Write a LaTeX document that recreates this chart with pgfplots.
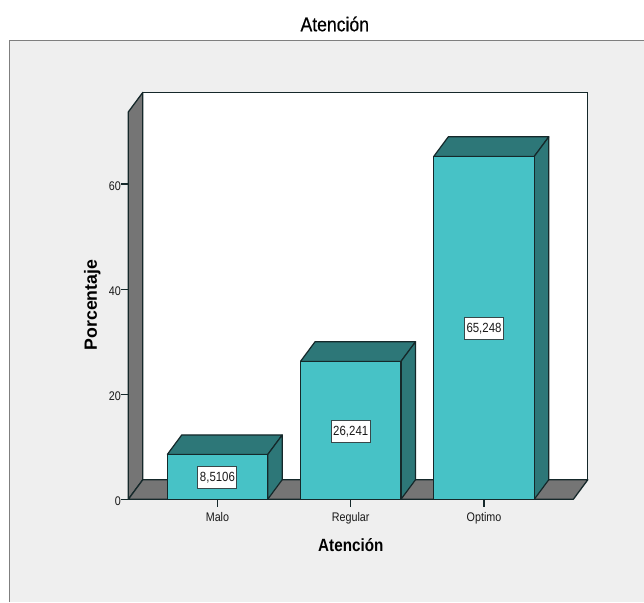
\documentclass[border=0pt]{standalone}
\usepackage{fontspec}
\setmainfont{Liberation Sans}
\newfontfamily\chartfont[FakeStretch=0.86]{Liberation Sans}
\newfontfamily\titlefont[FakeStretch=0.88,FakeBold=0.4]{Liberation Sans}
\usepackage{pgfplots}
\usepackage{pgfplotstable}
\pgfplotsset{compat=1.18}
\definecolor{panel}{HTML}{EFEFEF}
\definecolor{frameg}{HTML}{7F7F7F}
\definecolor{wallg}{HTML}{757575}
\definecolor{front}{HTML}{47C2C6}
\definecolor{shade}{HTML}{2D7778}
\definecolor{edge}{HTML}{15282A}

% x, half height (label position), value as printed
\pgfplotstableread{
x y    label
0 4.2553  8,5106
1 13.1205 26,241
2 32.624  65,248
}\labeltab

\begin{document}
\begin{tikzpicture}
  \path[use as bounding box] (0,0) rectangle (644pt,602pt);
  \fill[white] (0,0) rectangle (644pt,602pt);
  \fill[panel] (9.5pt,0) rectangle (644pt,561.5pt);
  \draw[frameg,line width=1.4pt] (9.5pt,0) -- (9.5pt,561.5pt) -- (644pt,561.5pt);
  \begin{axis}[
    at={(128.3pt,102.7pt)},
    anchor=south west,
    scale only axis,
    width=445pt,
    height=387.3pt,
    xmin=-0.669, xmax=2.670,
    ymin=0, ymax=73.7,
    clip=false,
    axis x line*=bottom,
    axis y line*=left,
    axis line style={edge,line width=1.3pt},
    xtick={0,1,2},
    xticklabels={Malo,Regular,Optimo},
    ytick={0,20,40,60},
    tick style={edge,line width=1.1pt},
    tick align=outside,
    major tick length=7.5pt,
    /pgf/number format/assume math mode=true,
    ticklabel style={font=\chartfont\fontsize{12.5}{14}\selectfont,text=black!90},
    yticklabel style={xshift=3.5pt,yshift=-2pt},
    xticklabel style={yshift=-2.5pt},
    title={Atención},
    title style={at={(axis description cs:0.464,1.2246)},anchor=center,yshift=-5pt,font=\titlefont\fontsize{20}{22}\selectfont},
    xlabel={Atención},
    xlabel style={at={(axis description cs:0.5,-0.118)},anchor=center,font=\chartfont\fontsize{17.7}{20}\selectfont\bfseries},
    ylabel={Porcentaje},
    ylabel style={at={(axis description cs:-0.0833,0.499)},anchor=center,xshift=1pt,yshift=-1pt,font=\fontsize{17.7}{20}\selectfont\bfseries},
  ]
    % back wall, left wall, floor
    \addplot[fill=white,draw=edge,line width=1.3pt,forget plot] coordinates {
      (-0.560,3.73) (-0.560,77.43) (2.779,77.43) (2.779,3.73) (-0.560,3.73)};
    \addplot[fill=wallg,draw=edge,line width=1.3pt,line join=round,forget plot] coordinates {
      (-0.669,0) (-0.560,3.73) (-0.560,77.43) (-0.669,73.7) (-0.669,0)};
    \addplot[fill=wallg,draw=edge,line width=1.3pt,line join=round,forget plot] coordinates {
      (-0.669,0) (-0.560,3.73) (2.779,3.73) (2.670,0) (-0.669,0)};

    % tops and sides of the bars
    \addplot[fill=shade,draw=edge,line width=1.2pt,line join=round,forget plot] coordinates {
      (-0.377,8.5106) (-0.268,12.2406) (0.486,12.2406) (0.377,8.5106) (-0.377,8.5106)};
    \addplot[fill=shade,draw=edge,line width=1.2pt,line join=round,forget plot] coordinates {
      (0.377,0) (0.486,3.73) (0.486,12.2406) (0.377,8.5106) (0.377,0)};
    \addplot[fill=shade,draw=edge,line width=1.2pt,line join=round,forget plot] coordinates {
      (0.623,26.241) (0.732,29.971) (1.486,29.971) (1.377,26.241) (0.623,26.241)};
    \addplot[fill=shade,draw=edge,line width=1.2pt,line join=round,forget plot] coordinates {
      (1.377,0) (1.486,3.73) (1.486,29.971) (1.377,26.241) (1.377,0)};
    \addplot[fill=shade,draw=edge,line width=1.2pt,line join=round,forget plot] coordinates {
      (1.623,65.248) (1.732,68.978) (2.486,68.978) (2.377,65.248) (1.623,65.248)};
    \addplot[fill=shade,draw=edge,line width=1.2pt,line join=round,forget plot] coordinates {
      (2.377,0) (2.486,3.73) (2.486,68.978) (2.377,65.248) (2.377,0)};

    % front faces
    \addplot[ybar,bar width=100.4pt,fill=front,draw=edge,line width=1.2pt,forget plot] coordinates {
      (0,8.5106) (1,26.241) (2,65.248)};

    % value boxes
    \addplot[draw=none,mark=none,forget plot,
      point meta=explicit symbolic,
      nodes near coords,
      nodes near coords align={center},
      every node near coord/.style={fill=white,draw=edge!85,line width=1pt,yshift=-1pt,
        inner sep=2pt,minimum height=22pt,font=\chartfont\fontsize{13.3}{15}\selectfont,text=black!90}]
      table[x=x,y=y,meta=label] {\labeltab};
  \end{axis}
\end{tikzpicture}
\end{document}
